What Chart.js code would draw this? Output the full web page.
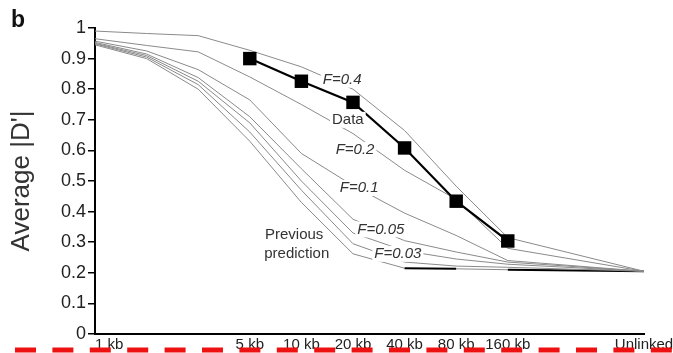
<!DOCTYPE html>
<html>
<head>
<meta charset="utf-8">
<script src="https://cdn.jsdelivr.net/npm/chart.js@4/dist/chart.umd.min.js"></script>
<style>
  html, body { margin: 0; padding: 0; background: #fff; }
  #wrap { width: 673px; height: 353px; }
</style>
</head>
<body>
<div id="wrap"><canvas id="chart" width="673" height="353"></canvas></div>
<script>
// Sample points along the distance axis, in doubling steps (Unlinked sits at ~1 Mb)
const positions = [0, 1, 2, 3, 4, 5, 6, 7, 8, 10.64];
const tickLabels = ['1 kb', '', '', '5 kb', '10 kb', '20 kb', '40 kb', '80 kb', '160 kb', 'Unlinked'];
const yTicks = [0, 0.1, 0.2, 0.3, 0.4, 0.5, 0.6, 0.7, 0.8, 0.9, 1];

// Simulated average |D'| for different F values
const f04 = [0.990, 0.982, 0.975, 0.927, 0.873, 0.800, 0.665, 0.483, 0.315, 0.205];
const f02 = [0.965, 0.943, 0.922, 0.840, 0.750, 0.655, 0.535, 0.440, 0.280, 0.205];
const f01 = [0.957, 0.925, 0.864, 0.765, 0.590, 0.485, 0.395, 0.322, 0.240, 0.205];
const f005 = [0.953, 0.915, 0.838, 0.710, 0.540, 0.375, 0.305, 0.268, 0.235, 0.205];
const f003 = [0.950, 0.910, 0.826, 0.690, 0.500, 0.330, 0.272, 0.245, 0.228, 0.205];
const prevUpper = [0.948, 0.905, 0.815, 0.660, 0.470, 0.295, 0.235, 0.222, 0.218, 0.205];
const prevPrediction = [0.945, 0.900, 0.800, 0.630, 0.430, 0.262, 0.215, 0.213, 0.210, 0.205];

// Observed data
const observedAt = ['5 kb', '10 kb', '20 kb', '40 kb', '80 kb', '160 kb'];
const observed = [0.900, 0.826, 0.757, 0.608, 0.434, 0.304];

const FONT = '"Liberation Sans", Arial, Helvetica, sans-serif';
const GRAY = '#8a8a8a';

const series = values => values.map((v, i) => ({ x: positions[i], y: v }));
const simLine = (label, values) => ({
  label, data: series(values), borderColor: GRAY, borderWidth: 1,
  pointRadius: 0, fill: false, order: 2
});

const datasets = [
  simLine('F=0.4', f04),
  simLine('F=0.2', f02),
  simLine('F=0.1', f01),
  simLine('F=0.05', f005),
  simLine('F=0.03', f003),
  simLine('Previous prediction (upper)', prevUpper),
  Object.assign(simLine('Previous prediction', prevPrediction), {
    segment: {
      borderColor: c => (c.p0DataIndex >= 6 && c.p0DataIndex !== 7) ? '#000' : GRAY,
      borderWidth: c => (c.p0DataIndex >= 6 && c.p0DataIndex !== 7) ? 2 : 1
    }
  }),
  {
    label: 'Data',
    data: observedAt.map((d, i) => ({ x: positions[tickLabels.indexOf(d)], y: observed[i] })),
    borderColor: '#000', borderWidth: 2.2,
    pointStyle: 'rect', pointRadius: 9.5,
    pointBackgroundColor: '#000', pointBorderColor: '#000', pointBorderWidth: 0,
    order: 1
  }
];

// Curve labels, anchored in data coordinates, with a white box behind the text
const curveLabels = [
  { text: 'F=0.4', x: 4.79, y: 0.831, italic: true, box: true },
  { text: 'Data', x: 4.90, y: 0.700, italic: false, box: true },
  { text: 'F=0.2', x: 5.04, y: 0.601, italic: true, box: true },
  { text: 'F=0.1', x: 5.12, y: 0.477, italic: true, box: true },
  { text: 'F=0.05', x: 5.54, y: 0.342, italic: true, box: true },
  { text: 'F=0.03', x: 5.87, y: 0.262, italic: true, box: true },
  { text: 'Previous', x: 3.86, y: 0.323, italic: false, box: false },
  { text: 'prediction', x: 3.91, y: 0.261, italic: false, box: false }
];

const decorations = {
  id: 'decorations',
  afterDatasetsDraw(chart) {
    const { ctx, scales: { x, y } } = chart;
    ctx.save();
    ctx.textAlign = 'center';
    ctx.textBaseline = 'middle';
    for (const l of curveLabels) {
      const px = x.getPixelForValue(l.x);
      const py = y.getPixelForValue(l.y);
      ctx.font = (l.italic ? 'italic ' : '') + '15px ' + FONT;
      const w = ctx.measureText(l.text).width;
      if (l.box) {
        ctx.fillStyle = '#fff';
        ctx.fillRect(px - w / 2 - 2, py - 8, w + 4, 16);
      }
      ctx.fillStyle = '#333';
      ctx.fillText(l.text, px, py);
    }
    ctx.restore();
  },
  afterDraw(chart) {
    const { ctx, scales: { x }, chartArea } = chart;
    ctx.save();
    // distance tick labels
    ctx.font = '15px ' + FONT;
    ctx.fillStyle = '#222';
    ctx.textBaseline = 'alphabetic';
    tickLabels.forEach((t, i) => {
      if (!t) return;
      const px = x.getPixelForValue(positions[i]);
      ctx.textAlign = i === 0 ? 'left' : 'center';
      ctx.fillText(t, px, chartArea.bottom + 15);
    });
    // panel letter
    ctx.font = 'bold 23px ' + FONT;
    ctx.textAlign = 'left';
    ctx.fillStyle = '#111';
    ctx.fillText('b', 11, 27);
    // dashed cut mark along the bottom edge
    ctx.strokeStyle = '#ee1111';
    ctx.lineWidth = 5;
    ctx.setLineDash([21, 16.4]);
    ctx.beginPath();
    ctx.moveTo(15, 350);
    ctx.lineTo(673, 350);
    ctx.stroke();
    ctx.restore();
  }
};

new Chart(document.getElementById('chart'), {
  type: 'line',
  data: { datasets },
  plugins: [decorations],
  options: {
    responsive: false,
    animation: false,
    devicePixelRatio: 1,
    layout: { padding: { top: 28, right: 29, bottom: 11, left: 0 } },
    plugins: { legend: { display: false }, tooltip: { enabled: false } },
    elements: { line: { tension: 0 } },
    scales: {
      x: {
        type: 'linear',
        min: positions[0],
        max: positions[positions.length - 1],
        ticks: { display: false },
        grid: { display: false },
        border: { display: true, color: '#000', width: 2 }
      },
      y: {
        type: 'linear',
        min: 0,
        max: 1,
        afterBuildTicks: s => { s.ticks = yTicks.map(v => ({ value: v })); },
        afterFit: s => { s.width = 95; },
        ticks: {
          callback: v => String(+Number(v).toFixed(1)),
          font: { family: FONT, size: 18 },
          color: '#222',
          padding: 2
        },
        grid: { drawOnChartArea: false, drawTicks: true, tickLength: 7, color: '#000', lineWidth: 1.5 },
        border: { display: true, color: '#000', width: 2 },
        title: {
          display: true,
          text: "Average |D'|",
          font: { family: FONT, size: 26 },
          color: '#333',
          padding: { top: 6, bottom: 0 }
        }
      }
    }
  }
});
</script>
</body>
</html>
